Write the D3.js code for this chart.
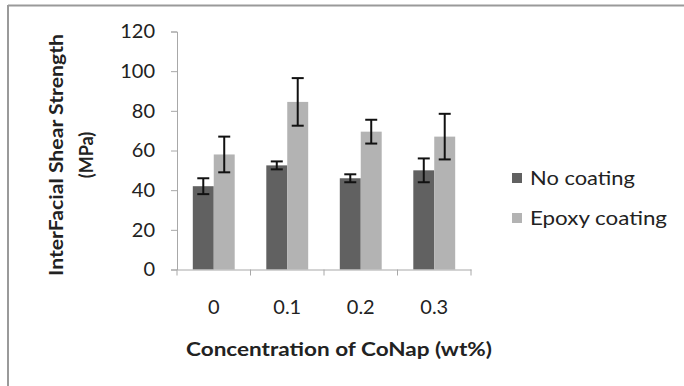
<!DOCTYPE html>
<html>
<head>
<meta charset="utf-8">
<script src="https://cdn.jsdelivr.net/npm/d3@7"></script>
<style>
  body { margin: 0; background: #fff; }
  text { font-family: Lato, "Open Sans", sans-serif; fill: #222; }
</style>
</head>
<body>
<div id="chart"></div>
<script>
const categories = ["0", "0.1", "0.2", "0.3"];
const seriesNames = ["No coating", "Epoxy coating"];
const noCoating = [42, 52.5, 46, 50];
const noCoatingErr = [4, 2, 2, 6];
const epoxyCoating = [58, 84.5, 69.5, 67];
const epoxyCoatingErr = [9, 12, 6, 11.5];
const yTicks = [0, 20, 40, 60, 80, 100, 120];
const colors = ["#616161", "#b3b3b3"];

const width = 684, height = 386;

const svg = d3.select("#chart").append("svg")
  .attr("width", width)
  .attr("height", height);

// frame (only top and left edges visible in the crop)
svg.append("line").attr("x1", 8).attr("x2", width).attr("y1", 5.5).attr("y2", 5.5)
  .attr("stroke", "#9a9a9a").attr("stroke-width", 2);
svg.append("line").attr("x1", 8).attr("x2", 8).attr("y1", 5).attr("y2", height)
  .attr("stroke", "#9a9a9a").attr("stroke-width", 2);

const x = d3.scaleBand()
  .domain(categories)
  .range([177, 471])
  .paddingInner(0.43)
  .paddingOuter(0.215);

const xs = d3.scaleBand()
  .domain(seriesNames)
  .range([0, x.bandwidth()]);

const y = d3.scaleLinear()
  .domain([0, 120])
  .range([269.5, 31.5]);

// y axis
const yAxis = svg.append("g")
  .attr("transform", "translate(177,0)")
  .call(d3.axisLeft(y).tickValues(yTicks).tickSize(6).tickPadding(16));
yAxis.select(".domain").attr("stroke", "#a8a8a8");
yAxis.selectAll(".tick line").attr("stroke", "#a8a8a8");
yAxis.selectAll("text").style("font-size", "20px").attr("fill", "#333");

// bars
const series = [
  {name: seriesNames[0], values: noCoating, err: noCoatingErr, color: colors[0]},
  {name: seriesNames[1], values: epoxyCoating, err: epoxyCoatingErr, color: colors[1]}
];

series.forEach(s => {
  const g = svg.append("g");
  g.selectAll("rect").data(categories).join("rect")
    .attr("x", (c) => x(c) + xs(s.name))
    .attr("width", xs.bandwidth())
    .attr("y", (c, i) => y(s.values[i]))
    .attr("height", (c, i) => y(0) - y(s.values[i]))
    .attr("fill", s.color);
});

// x axis
const xAxis = svg.append("g")
  .attr("transform", `translate(0,${y(0)})`)
  .call(d3.axisBottom(x).tickSize(0).tickPadding(30));
xAxis.select(".domain").attr("stroke", "#a8a8a8");
xAxis.selectAll("text").style("font-size", "20px").attr("fill", "#333");
// category separator ticks
const sep = d3.range(categories.length + 1).map(i => 177 + i * x.step());
svg.append("g").selectAll("line").data(sep).join("line")
  .attr("x1", d => d).attr("x2", d => d)
  .attr("y1", y(0)).attr("y2", y(0) + 6)
  .attr("stroke", "#a8a8a8");

// error bars
series.forEach(s => {
  const g = svg.append("g").attr("stroke", "#111").attr("stroke-width", 2);
  categories.forEach((c, i) => {
    const cx = x(c) + xs(s.name) + xs.bandwidth() / 2;
    const top = y(s.values[i] + s.err[i]);
    const bot = y(s.values[i] - s.err[i]);
    g.append("line").attr("x1", cx).attr("x2", cx).attr("y1", top).attr("y2", bot);
    g.append("line").attr("x1", cx - 6).attr("x2", cx + 6).attr("y1", top).attr("y2", top);
    g.append("line").attr("x1", cx - 6).attr("x2", cx + 6).attr("y1", bot).attr("y2", bot);
  });
});

// axis titles (source is slightly stretched horizontally, so fit to measured lengths)
svg.append("text")
  .attr("x", 339).attr("y", 356)
  .attr("text-anchor", "middle")
  .attr("textLength", 306).attr("lengthAdjust", "spacingAndGlyphs")
  .style("font-size", "18px").style("font-weight", "bold")
  .text("Concentration of CoNap (wt%)");

const yt = svg.append("text")
  .attr("transform", "translate(0,155) rotate(-90)")
  .attr("text-anchor", "middle")
  .style("font-size", "18px").style("font-weight", "bold");
yt.append("tspan").attr("x", 0).attr("y", 63)
  .attr("textLength", 242).attr("lengthAdjust", "spacingAndGlyphs")
  .text("InterFacial Shear Strength");
yt.append("tspan").attr("x", 0).attr("y", 93).text("(MPa)");

// legend
const legendWidths = [105, 137];
const legend = svg.append("g");
series.forEach((s, i) => {
  const ly = 178 + i * 40;
  legend.append("rect")
    .attr("x", 512).attr("y", ly - 5).attr("width", 10).attr("height", 10)
    .attr("fill", s.color);
  legend.append("text")
    .attr("x", 530).attr("y", ly)
    .attr("dy", "0.35em")
    .attr("textLength", legendWidths[i]).attr("lengthAdjust", "spacingAndGlyphs")
    .style("font-size", "19px")
    .attr("fill", "#333")
    .text(s.name);
});
</script>
</body>
</html>
